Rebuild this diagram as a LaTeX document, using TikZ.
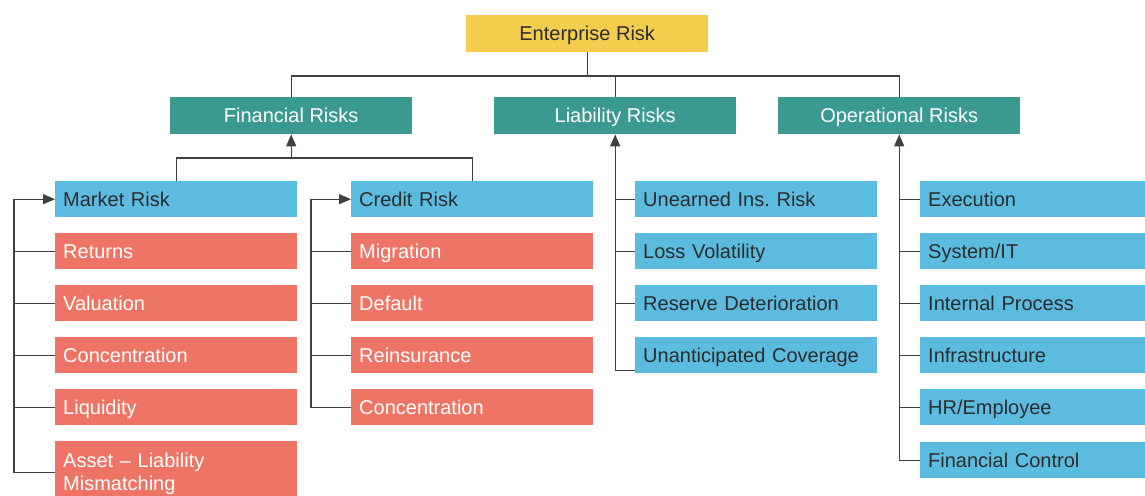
\documentclass[tikz,border=0pt]{standalone}
\usepackage{fontspec}
\setmainfont{Liberation Sans}
\usetikzlibrary{arrows.meta,calc}
\definecolor{topyellow}{HTML}{F5CD4E}
\definecolor{headteal}{HTML}{3A9A8F}
\definecolor{itemblue}{HTML}{5BBCE0}
\definecolor{itemred}{HTML}{EE7565}
\definecolor{inkdark}{HTML}{2C2C2C}
\definecolor{wire}{HTML}{404040}
\tikzset{
  box/.style={anchor=north west, inner xsep=8pt, inner ysep=0pt,
    minimum height=36pt, text width=#1, align=left,
    font=\fontsize{20}{23}\selectfont, text height=18pt, text depth=4pt},
  box/.default=226pt,
  headbox/.style={anchor=north west, inner sep=0pt, minimum height=37pt,
    minimum width=242pt, font=\fontsize{20}{23}\selectfont,
    text height=18pt, text depth=4pt},
  topbox/.style={headbox, fill=topyellow, text=inkdark},
  groupbox/.style={headbox, fill=headteal, text=white},
  bluebox/.style={box, fill=itemblue, text=inkdark},
  redbox/.style={box, fill=itemred, text=white},
  link/.style={draw=wire, line width=1.2pt},
  uplink/.style={link, -{Triangle[width=10pt,length=12pt]}},
}
\begin{document}
\begin{tikzpicture}[x=1pt,y=-1pt]
\useasboundingbox (0,0) rectangle (1145,495);
\clip (0,0) rectangle (1145,495);
\fill[white] (0,0) rectangle (1145,495);

% top level and the three risk groups
\node[topbox] (ent) at (466,15) {Enterprise Risk};
\node[groupbox] (fin) at (170,97) {Financial Risks};
\node[groupbox] (liab) at (494,97) {Liability Risks};
\node[groupbox] (op) at (778,97) {Operational Risks};

% financial risks: market and credit
\node[bluebox] (mkt) at (55,181) {Market Risk};
\node[bluebox] (cred) at (351,181) {Credit Risk};

\node[redbox] (ret) at (55,233) {Returns};
\node[redbox] (val) at (55,285) {Valuation};
\node[redbox] (mconc) at (55,337) {Concentration};
\node[redbox] (liq) at (55,389) {Liquidity};
\node[redbox, minimum height=62pt, text depth=28pt] (alm) at (55,441) {Asset -- Liability\\Mismatching};

\node[redbox] (mig) at (351,233) {Migration};
\node[redbox] (def) at (351,285) {Default};
\node[redbox] (reins) at (351,337) {Reinsurance};
\node[redbox] (cconc) at (351,389) {Concentration};

% liability risks
\node[bluebox=228pt] (unearn) at (635,181) {Unearned Ins.\ Risk};
\node[bluebox=228pt] (lossvol) at (635,233) {Loss Volatility};
\node[bluebox=228pt] (resdet) at (635,285) {Reserve Deterioration};
\node[bluebox=228pt] (ucov) at (635,337) {Unanticipated Coverage};

% operational risks
\node[bluebox] (exec) at (920,181) {Execution};
\node[bluebox] (sysit) at (920,233) {System/IT};
\node[bluebox] (intproc) at (920,285) {Internal Process};
\node[bluebox] (infra) at (920,337) {Infrastructure};
\node[bluebox] (hr) at (920,389) {HR/Employee};
\node[bluebox] (finctl) at (920,442) {Financial Control};

% rails and buses
\coordinate (bus) at (0,76);
\coordinate (fbus) at (0,158);
\coordinate (mrail) at (14,0);
\coordinate (crail) at (311,0);

% enterprise to groups
\draw[link] (ent.south) -- (ent.south |- bus);
\draw[link] (fin.north) -- (fin.north |- bus) -- (op.north |- bus) -- (op.north);
\draw[link] (liab.north) -- (liab.north |- bus);

% market and credit up to financial risks
\draw[link] (mkt.north) -- (mkt.north |- fbus) -- (cred.north |- fbus) -- (cred.north);
\draw[uplink] (fin.south |- fbus) -- (fin.south);

% market risk items
\draw[uplink] (alm.west) -- (alm.west -| mrail) -- (mkt.west -| mrail) -- (mkt.west);
\foreach \n in {ret,val,mconc,liq} \draw[link] (\n.west) -- (\n.west -| mrail);

% credit risk items
\draw[uplink] (cconc.west) -- (cconc.west -| crail) -- (cred.west -| crail) -- (cred.west);
\foreach \n in {mig,def,reins} \draw[link] (\n.west) -- (\n.west -| crail);

% liability items
\coordinate (ucovend) at ($(ucov.south west)+(0,-3)$);
\draw[uplink] (ucovend) -- (ucovend -| liab.south) -- (liab.south);
\foreach \n in {unearn,lossvol,resdet} \draw[link] (\n.west) -- (\n.west -| liab.south);

% operational items
\draw[uplink] (finctl.west) -- (finctl.west -| op.south) -- (op.south);
\foreach \n in {exec,sysit,intproc,infra,hr} \draw[link] (\n.west) -- (\n.west -| op.south);
\end{tikzpicture}
\end{document}
